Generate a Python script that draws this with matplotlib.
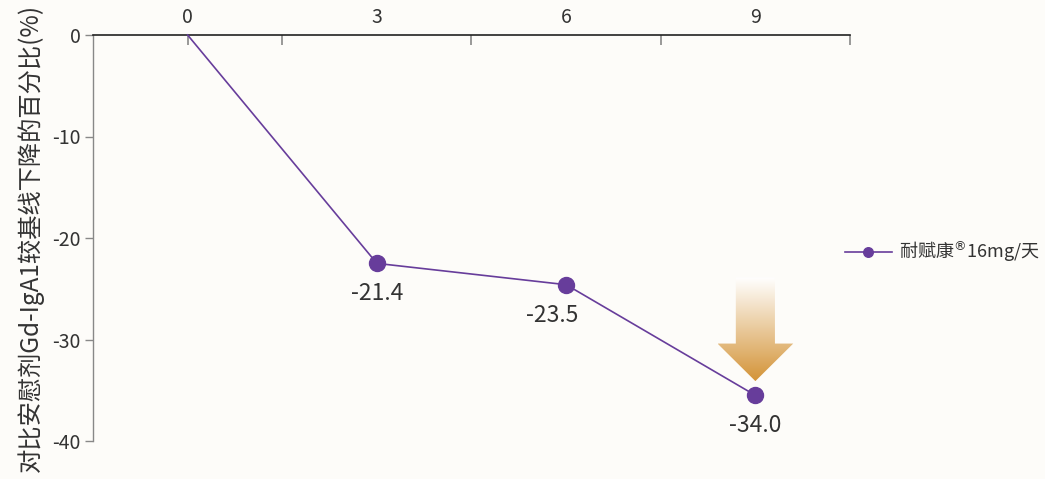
import numpy as np
import matplotlib.pyplot as plt
from matplotlib.patches import Polygon

plt.rcParams['font.family'] = ['Noto Sans CJK SC', 'DejaVu Sans']
plt.rcParams['axes.unicode_minus'] = False

# DATA
months = [0, 3, 6, 9]
change = [0, -22.5, -24.6, -35.5]          # plotted positions
value_labels = ["-21.4", "-23.5", "-34.0"]  # printed values
month_labels = ["0", "3", "6", "9"]
y_ticks = [0, -10, -20, -30, -40]
series_name = "耐赋康$^{®}$16mg/天"
y_title = "对比安慰剂Gd-IgA1较基线下降的百分比(%)"

purple = "#673d9b"
text_c = "#333333"
bg = "#fdfcf9"

fig = plt.figure(figsize=(10.45, 4.79), dpi=100, facecolor=bg)
ax = fig.add_axes([93/1045, 1-441/479, (850-93)/1045, (441-35)/479])
ax.set_facecolor(bg)

ax.plot(months, change, color=purple, lw=1.2, marker="o", ms=11.5,
        markevery=[1, 2, 3], clip_on=False, zorder=5, label=series_name)

# value labels under points
x_off = [0, -10, 0]
for i, lab in enumerate(value_labels):
    ax.annotate(lab, (months[i+1], change[i+1]), xytext=(x_off[i], -22),
                textcoords="offset points", ha="center", va="center",
                fontsize=16.5, color=text_c)

# gradient arrow above last point
cx, tip = months[-1], change[-1] + 1.4
hw, sw = 0.6, 0.31
head_top, shaft_top = tip + 3.7, tip + 10.2
pts = [(cx - sw, shaft_top), (cx + sw, shaft_top), (cx + sw, head_top),
       (cx + hw, head_top), (cx, tip), (cx - hw, head_top), (cx - sw, head_top)]
poly = Polygon(pts, closed=True, facecolor="none", edgecolor="none")
ax.add_patch(poly)
grad = np.linspace(0, 1, 256).reshape(-1, 1)
c0 = np.array([1.0, 1.0, 1.0])
c1 = np.array([0.83, 0.58, 0.22])
img = c0 + (c1 - c0) * grad[..., None]
im = ax.imshow(img, extent=(cx - hw, cx + hw, tip, shaft_top), origin="upper",
               aspect="auto", zorder=4)
im.set_clip_path(poly)
ax.set_xlim(-1.5, 10.5)
ax.set_ylim(-40, 0)

# axes styling
ax.xaxis.tick_top()
ax.set_xticks(months)
ax.set_xticklabels(month_labels)
ax.set_xticks([0, 1.5, 4.5, 7.5, 10.5], minor=True)
ax.xaxis.remove_overlapping_locs = False
ax.tick_params(axis="x", which="major", length=0, pad=5, labelsize=14,
               labelcolor=text_c)
ax.tick_params(axis="x", which="minor", length=7, width=1.2, direction="in",
               color="#888888")
ax.set_yticks(y_ticks)
ax.tick_params(axis="y", length=6, width=1, color="#888888", labelsize=14,
               labelcolor=text_c, pad=3)
for s in ["right", "bottom"]:
    ax.spines[s].set_visible(False)
ax.spines["top"].set_color("#222222")
ax.spines["top"].set_linewidth(1.2)
ax.spines["left"].set_color("#888888")
ax.spines["left"].set_linewidth(1.0)

ax.set_ylabel(y_title, fontsize=17.5, color=text_c, labelpad=6)

ax.legend(loc="center left", bbox_to_anchor=(845/1045, 1-252/479),
          bbox_transform=fig.transFigure, frameon=False, fontsize=13,
          handlelength=2.6, handletextpad=0.4, markerscale=0.6,
          labelcolor=text_c, borderaxespad=0, borderpad=0)

fig.savefig("out.png", dpi=100, facecolor=bg)
